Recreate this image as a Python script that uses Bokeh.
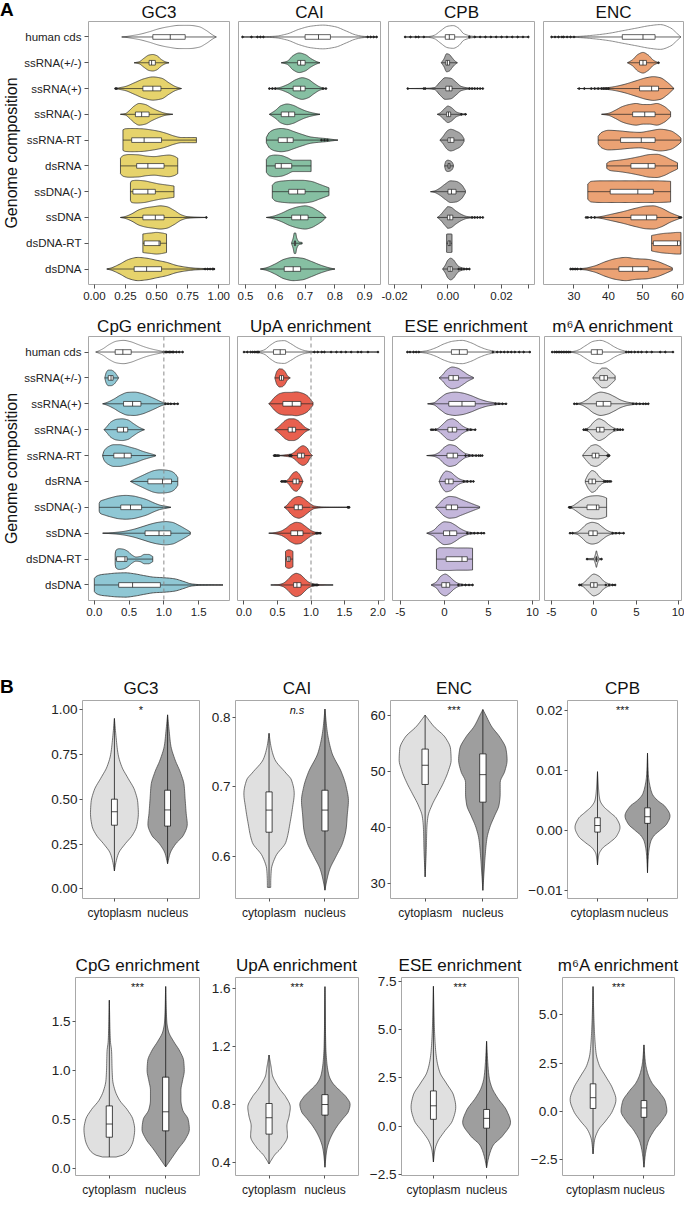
import numpy as np
from bokeh.plotting import figure
from bokeh.layouts import column, row
from bokeh.models import FixedTicker, Label, Span, Div
from bokeh.embed import file_html
from bokeh.resources import INLINE

FONT = "Liberation Sans"

GENOME_TYPES = ["human cds", "ssRNA(+/-)", "ssRNA(+)", "ssRNA(-)", "ssRNA-RT",
                "dsRNA", "ssDNA(-)", "ssDNA", "dsDNA-RT", "dsDNA"]
LOCATIONS = ["cytoplasm", "nucleus"]
PANEL_LETTERS = ["A", "B"]

# ---------------- Panel A : violin knots (value, half-width), box (q1, median, q3), outliers
GC3_V = [[0.22,0.26,0.30,0.36,0.44,0.52,0.60,0.68,0.76,0.84,0.90,0.95,0.98],
         [0.32,0.36,0.40,0.44,0.47,0.50,0.54,0.57,0.60],
         [0.17,0.20,0.25,0.32,0.40,0.47,0.54,0.60,0.65,0.70],
         [0.21,0.25,0.28,0.32,0.36,0.41,0.46,0.52,0.57,0.63],
         [0.23,0.25,0.30,0.38,0.45,0.52,0.58,0.64,0.70,0.76,0.82],
         [0.21,0.23,0.28,0.35,0.42,0.48,0.55,0.60,0.64,0.67],
         [0.29,0.30,0.34,0.40,0.46,0.52,0.58,0.64],
         [0.21,0.25,0.30,0.36,0.42,0.48,0.53,0.58,0.64,0.70,0.75,0.90],
         [0.39,0.42,0.46,0.50,0.54,0.58],
         [0.10,0.14,0.20,0.28,0.35,0.42,0.50,0.58,0.66,0.74,0.82,0.88,0.97]]
GC3_W = [[0.0,0.02,0.05,0.10,0.20,0.32,0.40,0.45,0.45,0.40,0.25,0.08,0.0],
         [0.0,0.04,0.18,0.30,0.32,0.28,0.12,0.04,0.0],
         [0.0,0.03,0.08,0.22,0.38,0.45,0.40,0.22,0.08,0.0],
         [0.0,0.03,0.14,0.32,0.42,0.38,0.25,0.12,0.04,0.0],
         [0.40,0.44,0.45,0.44,0.40,0.34,0.26,0.16,0.10,0.10,0.10],
         [0.30,0.40,0.44,0.43,0.38,0.36,0.40,0.42,0.38,0.30],
         [0.34,0.42,0.44,0.42,0.36,0.30,0.26,0.22],
         [0.0,0.04,0.14,0.30,0.38,0.42,0.45,0.42,0.28,0.10,0.03,0.0],
         [0.36,0.38,0.40,0.42,0.40,0.36],
         [0.0,0.05,0.18,0.38,0.45,0.42,0.34,0.26,0.14,0.07,0.03,0.02,0.0]]
GC3_BOX = [(0.47,0.61,0.73),(0.44,0.46,0.49),(0.39,0.47,0.535),(0.33,0.38,0.44),(0.30,0.40,0.54),
           (0.34,0.43,0.56),(0.31,0.43,0.49),(0.39,0.49,0.56),(0.40,0.52,0.53),(0.32,0.42,0.54)]
GC3_OUT = [[],[],[0.17,0.18],[],[],[],[],[0.90],[],[0.89,0.91,0.93,0.95,0.96]]

CAI_V = [[0.49,0.56,0.60,0.64,0.68,0.72,0.76,0.80,0.84,0.87,0.90,0.94],
         [0.62,0.64,0.66,0.68,0.70,0.72,0.74,0.75],
         [0.58,0.61,0.64,0.67,0.69,0.71,0.73,0.75,0.77],
         [0.58,0.60,0.62,0.64,0.66,0.68,0.70,0.72,0.75],
         [0.57,0.58,0.60,0.62,0.64,0.66,0.69,0.72,0.75,0.77,0.79,0.81],
         [0.57,0.58,0.60,0.62,0.64,0.66,0.68,0.70,0.72],
         [0.59,0.60,0.63,0.66,0.69,0.72,0.75,0.78],
         [0.57,0.59,0.62,0.65,0.68,0.70,0.72,0.74,0.76,0.77],
         [0.655,0.66,0.664,0.668,0.672,0.68,0.69],
         [0.55,0.57,0.60,0.63,0.66,0.69,0.72,0.75,0.78,0.80]]
CAI_W = [[0.0,0.01,0.03,0.12,0.30,0.42,0.46,0.40,0.22,0.08,0.02,0.0],
         [0.0,0.06,0.28,0.38,0.32,0.16,0.04,0.0],
         [0.0,0.03,0.15,0.35,0.42,0.36,0.20,0.06,0.0],
         [0.0,0.15,0.34,0.40,0.35,0.24,0.14,0.07,0.0],
         [0.10,0.30,0.42,0.45,0.42,0.34,0.22,0.12,0.08,0.06,0.03,0.0],
         [0.25,0.38,0.42,0.40,0.32,0.22,0.22,0.22,0.22],
         [0.25,0.36,0.42,0.44,0.44,0.40,0.28,0.15],
         [0.0,0.04,0.16,0.32,0.42,0.45,0.40,0.28,0.12,0.0],
         [0.03,0.20,0.40,0.40,0.20,0.05,0.03],
         [0.0,0.05,0.20,0.38,0.45,0.42,0.30,0.16,0.05,0.0]]
CAI_BOX = [(0.70,0.745,0.785),(0.675,0.685,0.70),(0.66,0.685,0.70),(0.62,0.645,0.665),(0.61,0.64,0.66),
           (0.60,0.62,0.655),(0.645,0.675,0.70),(0.655,0.685,0.71),(0.664,0.666,0.668),(0.63,0.66,0.685)]
CAI_OUT = [[0.49,0.52,0.54,0.55,0.56,0.91,0.92,0.93,0.94],[],[0.58,0.59,0.60,0.76,0.77],[],
           [0.755,0.765,0.775],[],[],[],[],[]]

CPB_V = [[-0.016,-0.010,-0.007,-0.005,-0.003,0.000,0.002,0.004,0.006,0.010,0.020,0.030],
         [-0.0025,-0.0015,-0.0005,0.0005,0.0015,0.0025,0.0035],
         [-0.015,-0.008,-0.005,-0.003,-0.001,0.001,0.003,0.005,0.008,0.013],
         [-0.004,-0.003,-0.001,0.000,0.001,0.002,0.003,0.005,0.007],
         [-0.003,-0.002,0.0,0.001,0.002,0.003,0.004,0.005,0.006],
         [-0.0012,-0.0008,0.0,0.0008,0.0015,0.002],
         [-0.0065,-0.005,-0.003,-0.001,0.001,0.003,0.005,0.0065],
         [-0.004,-0.003,-0.001,0.0,0.001,0.003,0.005,0.007,0.010,0.013],
         [-0.0005,0.0,0.0005,0.001,0.0015],
         [-0.002,-0.001,0.0,0.001,0.002,0.003,0.004,0.006,0.008]]
CPB_W = [[0.0,0.005,0.02,0.07,0.22,0.42,0.44,0.34,0.12,0.02,0.005,0.0],
         [0.0,0.15,0.35,0.32,0.20,0.08,0.0],
         [0.0,0.01,0.04,0.25,0.42,0.40,0.25,0.08,0.02,0.0],
         [0.0,0.05,0.25,0.32,0.28,0.20,0.10,0.03,0.0],
         [0.0,0.12,0.38,0.42,0.40,0.35,0.30,0.22,0.05],
         [0.05,0.18,0.22,0.20,0.15,0.05],
         [0.0,0.03,0.14,0.30,0.42,0.40,0.28,0.05],
         [0.0,0.08,0.32,0.42,0.40,0.25,0.12,0.04,0.01,0.0],
         [0.35,0.36,0.36,0.36,0.35],
         [0.0,0.15,0.35,0.42,0.36,0.22,0.10,0.03,0.0]]
CPB_BOX = [(-0.001,0.0005,0.0025),(-0.0008,-0.0002,0.0006),(-0.0008,0.0005,0.0015),(-0.0005,0.0002,0.001),
           (0.0,0.0008,0.0022),(0.0,0.0004,0.0008),(0.0,0.0013,0.003),(-0.0002,0.0007,0.0018),
           (0.0,0.0005,0.001),(0.0,0.0008,0.0016)]
CPB_OUT = [[-0.016,-0.014,-0.012,-0.011,-0.009,0.008,0.010,0.012,0.014,0.016,0.018,0.020,0.022,0.024,0.026,0.028,0.030],
           [],[-0.015,-0.009,-0.0085,0.008,0.009,0.010,0.011,0.012,0.013],[0.005,0.0065],[],[],[],
           [0.009,0.010,0.011,0.012,0.013],[],[0.004,0.005,0.006,0.007,0.008]]

ENC_V = [[23.5,28,31,35,40,44,48,52,55,58,60,61],
         [45.5,47,48.5,50,51.5,53,54.5],
         [31,36,40,44,48,51,53,55,57,59],
         [38,40,42,44,46,48,50,52,54,56,58],
         [37,38,40,43,46,49,52,55,58,60,61],
         [39.5,40.5,43,46,49,52,54,56,58,60],
         [34,35,38,42,46,50,54,58],
         [33.5,36,38,40,44,48,51,53,55,58,61],
         [52.5,54,56,58,60,61],
         [29,31,33,36,39,42,45,48,51,54,56,58.5]]
ENC_W = [[0.0,0.01,0.02,0.06,0.14,0.24,0.34,0.44,0.48,0.35,0.12,0.0],
         [0.0,0.12,0.32,0.40,0.30,0.10,0.0],
         [0.0,0.01,0.04,0.14,0.30,0.42,0.46,0.42,0.25,0.0],
         [0.0,0.04,0.16,0.30,0.38,0.42,0.38,0.38,0.42,0.32,0.10],
         [0.15,0.30,0.38,0.36,0.32,0.30,0.36,0.42,0.36,0.20,0.08],
         [0.10,0.18,0.22,0.28,0.36,0.44,0.45,0.38,0.25,0.12],
         [0.30,0.40,0.42,0.42,0.42,0.42,0.42,0.40],
         [0.0,0.01,0.04,0.10,0.22,0.36,0.44,0.45,0.38,0.18,0.02],
         [0.30,0.34,0.38,0.40,0.42,0.42],
         [0.0,0.01,0.03,0.12,0.28,0.40,0.45,0.40,0.38,0.30,0.20,0.05]]
ENC_BOX = [(44,50,53.5),(49,50,51),(49,52.5,54.5),(47,50.5,53.5),(43.5,49.5,53.5),
           (46.5,51.5,53.5),(40.5,48.5,53),(46.5,51,54),(53,60,60.8),(43,47,51.5)]
ENC_OUT = [[23.5,24.5,25.5,26.5,27,28,29,30],[54.5],[31.5,33,35,36,37,38,38.5,39,39.5,40],[],[],[],[],
           [33.5,34,35,36,60.5,61],[],[29,29.5,30,30.5,31,32]]

CPG_V = [[0.02,0.05,0.12,0.22,0.32,0.42,0.52,0.62,0.72,0.82,0.92,1.0,1.1,1.27],
         [0.15,0.17,0.20,0.24,0.28,0.32,0.35],
         [0.12,0.18,0.28,0.38,0.48,0.58,0.68,0.78,0.88,0.98,1.05,1.2],
         [0.14,0.18,0.24,0.32,0.40,0.48,0.56,0.64,0.72],
         [0.12,0.14,0.20,0.28,0.36,0.44,0.52,0.60,0.70,0.80,0.88],
         [0.52,0.56,0.62,0.70,0.78,0.86,0.94,1.02,1.10,1.16,1.20],
         [0.07,0.08,0.15,0.25,0.35,0.45,0.55,0.65,0.75,0.85,0.95,1.05,1.1],
         [0.12,0.25,0.40,0.55,0.70,0.82,0.92,1.02,1.12,1.22,1.30,1.38],
         [0.30,0.31,0.36,0.42,0.48,0.54,0.60,0.66,0.72,0.78,0.84],
         [0.0,0.02,0.10,0.20,0.32,0.45,0.58,0.72,0.86,1.0,1.15,1.28,1.40,1.55,1.85]]
CPG_W = [[0.0,0.03,0.12,0.30,0.42,0.45,0.40,0.30,0.20,0.12,0.06,0.02,0.01,0.0],
         [0.0,0.20,0.30,0.30,0.25,0.12,0.0],
         [0.0,0.05,0.18,0.34,0.44,0.45,0.40,0.30,0.18,0.06,0.02,0.0],
         [0.0,0.12,0.30,0.40,0.42,0.38,0.24,0.10,0.0],
         [0.02,0.18,0.34,0.42,0.42,0.38,0.32,0.26,0.16,0.08,0.02],
         [0.0,0.06,0.14,0.24,0.34,0.42,0.45,0.44,0.40,0.30,0.15],
         [0.15,0.22,0.30,0.38,0.44,0.46,0.44,0.38,0.30,0.18,0.08,0.03,0.0],
         [0.0,0.02,0.06,0.14,0.26,0.36,0.42,0.45,0.42,0.30,0.18,0.05],
         [0.20,0.34,0.40,0.38,0.30,0.16,0.08,0.10,0.18,0.18,0.10],
         [0.25,0.32,0.40,0.43,0.46,0.47,0.43,0.36,0.30,0.28,0.24,0.14,0.04,0.01,0.0]]
CPG_BOX = [(0.30,0.41,0.53),(0.20,0.24,0.27),(0.42,0.55,0.67),(0.33,0.42,0.48),(0.28,0.43,0.53),
           (0.77,0.98,1.11),(0.38,0.52,0.68),(0.73,0.93,1.10),(0.32,0.44,0.47),(0.35,0.55,0.95)]
CPG_OUT = [[1.0,1.02,1.04,1.06,1.08,1.1,1.12,1.14,1.18,1.22,1.27],[],[1.02,1.06,1.1,1.15,1.2],[],[],[],[],[],[],[]]

UPA_V = [[0.0,0.08,0.2,0.3,0.4,0.5,0.6,0.7,0.8,0.9,1.0,1.2,1.5,2.0],
         [0.46,0.49,0.53,0.57,0.61,0.65,0.69],
         [0.37,0.40,0.46,0.54,0.62,0.70,0.78,0.86,0.94,1.00,1.03],
         [0.46,0.50,0.56,0.62,0.68,0.74,0.80,0.86,0.92,0.98],
         [0.45,0.55,0.62,0.70,0.76,0.82,0.88,0.94,0.98,1.02],
         [0.55,0.62,0.66,0.70,0.74,0.78,0.82,0.86,0.88],
         [0.60,0.64,0.70,0.76,0.82,0.88,0.94,1.00,1.05,1.2,1.4,1.57],
         [0.37,0.45,0.55,0.62,0.70,0.78,0.84,0.90,0.96,1.02,1.08,1.15],
         [0.62,0.64,0.67,0.70,0.73],
         [0.40,0.50,0.58,0.66,0.72,0.78,0.84,0.90,0.96,1.02,1.1,1.2,1.33]]
UPA_W = [[0.0,0.01,0.02,0.08,0.28,0.42,0.44,0.32,0.16,0.06,0.02,0.005,0.002,0.0],
         [0.0,0.25,0.35,0.34,0.25,0.08,0.0],
         [0.0,0.08,0.26,0.40,0.44,0.44,0.46,0.42,0.32,0.15,0.05],
         [0.0,0.08,0.22,0.36,0.42,0.42,0.36,0.22,0.08,0.0],
         [0.0,0.01,0.03,0.06,0.15,0.30,0.38,0.30,0.12,0.0],
         [0.0,0.02,0.08,0.22,0.34,0.38,0.30,0.12,0.0],
         [0.0,0.08,0.26,0.38,0.42,0.36,0.24,0.12,0.05,0.01,0.005,0.0],
         [0.0,0.02,0.08,0.18,0.34,0.42,0.40,0.30,0.18,0.08,0.03,0.0],
         [0.30,0.34,0.36,0.34,0.30],
         [0.0,0.01,0.06,0.22,0.38,0.45,0.40,0.26,0.12,0.05,0.02,0.005,0.0]]
UPA_BOX = [(0.44,0.54,0.62),(0.53,0.56,0.59),(0.58,0.72,0.85),(0.66,0.72,0.77),(0.80,0.86,0.90),
           (0.73,0.78,0.82),(0.75,0.81,0.87),(0.70,0.80,0.88),(0.64,0.67,0.69),(0.74,0.79,0.85)]
UPA_OUT = [[0.0,0.05,0.1,0.13,0.16,0.18,0.2,0.22,1.05,1.1,1.16,1.2,1.3,1.38,1.45,1.52,1.6,1.7,1.75,1.85,2.0],
           [],[],[],[0.45,0.46,0.47,0.48,0.5,0.52,0.68,0.69,0.70,0.71],[0.56,0.58,0.60,0.62],
           [1.55,1.56,1.57],[1.08,1.1,1.12,1.14],[],[1.02,1.04,1.06,1.08,1.1]]

ESE_V = [[-4.2,-3.0,-2.0,-1.0,0.0,1.0,2.0,3.0,4.0,5.0,6.0,7.5,9.7],
         [-0.6,-0.2,0.3,0.9,1.5,2.1,2.7,3.3],
         [-1.9,-1.2,-0.5,0.3,1.2,2.0,3.0,4.0,5.0,6.0,7.0],
         [-1.5,-0.8,-0.2,0.4,0.9,1.4,2.0,2.6,3.5],
         [-2.0,-1.2,-0.6,0.0,0.6,1.2,1.8,2.4,3.0,4.3],
         [-0.6,-0.3,0.2,0.7,1.2,1.7,2.2,3.3],
         [-1.0,-0.6,0.0,0.6,1.2,1.8,2.4,3.0,3.6,4.0],
         [-2.0,-1.2,-0.6,0.0,0.6,1.2,1.8,2.4,3.0,4.5],
         [-0.9,-0.5,0.5,1.5,2.5,3.2],
         [-1.5,-0.9,-0.4,0.1,0.6,1.1,1.6,2.2,3.2]]
ESE_W = [[0.0,0.01,0.05,0.16,0.32,0.42,0.45,0.36,0.20,0.08,0.02,0.005,0.0],
         [0.0,0.12,0.32,0.42,0.38,0.26,0.12,0.02],
         [0.0,0.04,0.22,0.40,0.45,0.42,0.32,0.18,0.08,0.03,0.0],
         [0.0,0.04,0.20,0.38,0.42,0.34,0.16,0.05,0.0],
         [0.0,0.03,0.12,0.32,0.42,0.38,0.22,0.08,0.03,0.0],
         [0.0,0.22,0.40,0.36,0.22,0.10,0.04,0.0],
         [0.0,0.14,0.34,0.42,0.40,0.32,0.24,0.16,0.08,0.03],
         [0.0,0.12,0.32,0.44,0.42,0.32,0.18,0.08,0.03,0.0],
         [0.38,0.44,0.44,0.43,0.43,0.42],
         [0.0,0.12,0.34,0.42,0.32,0.16,0.06,0.02,0.0]]
ESE_BOX = [(0.8,1.7,2.6),(0.5,1.0,1.6),(0.5,2.0,3.5),(0.4,0.9,1.4),(0.3,1.0,1.5),
           (0.1,0.5,1.0),(0.2,0.8,1.5),(-0.1,0.6,1.4),(0.2,2.0,2.6),(-0.3,0.2,0.6)]
ESE_OUT = [[-4.2,-3.9,-3.5,-3.2,-2.9,5.5,6.0,6.4,6.8,7.2,7.6,8.0,8.5,9.0,9.7],[],[5.8,6.2,6.6,7.0],
           [-1.5,-1.3,-1.0,2.6,3.0,3.5],[2.4,2.8,3.2,3.6,3.9,4.1,4.3],[2.2,2.6,3.0,3.3],[],
           [2.6,3.0,3.4,3.8,4.2,4.5],[],[1.6,2.0,2.4,2.8,3.2]]

M6A_V = [[-4.9,-3.5,-2.5,-1.8,-1.0,0.0,0.8,1.6,2.4,3.2,4.0,6.0,9.3],
         [-0.1,0.2,0.6,1.0,1.4,1.8,2.2,2.5],
         [-2.3,-1.6,-0.8,0.0,0.8,1.6,2.4,3.2,4.0,5.0,6.4],
         [-1.2,-0.6,0.0,0.6,1.2,1.8,2.4,3.0,3.4],
         [-1.3,-0.8,-0.3,0.2,0.7,1.2,1.6,1.8],
         [-1.0,-0.6,-0.2,0.2,0.6,1.0,1.4,2.0],
         [-2.9,-2.6,-2.0,-1.4,-0.8,-0.2,0.4,1.0,1.5],
         [-2.8,-2.0,-1.4,-0.8,-0.2,0.4,1.0,1.6,2.2,3.5],
         [-0.8,0.0,0.2,0.3,0.4,0.6,0.9],
         [-1.7,-1.2,-0.6,0.0,0.6,1.2,1.8,2.5]]
M6A_W = [[0.0,0.005,0.02,0.08,0.24,0.42,0.45,0.36,0.20,0.08,0.02,0.005,0.0],
         [0.02,0.14,0.28,0.38,0.38,0.30,0.18,0.08],
         [0.0,0.03,0.16,0.36,0.45,0.40,0.28,0.14,0.06,0.02,0.0],
         [0.0,0.08,0.30,0.42,0.34,0.18,0.06,0.02,0.0],
         [0.02,0.22,0.38,0.42,0.35,0.20,0.10,0.04],
         [0.05,0.30,0.42,0.36,0.20,0.08,0.03,0.0],
         [0.02,0.04,0.16,0.30,0.40,0.44,0.45,0.42,0.36],
         [0.0,0.04,0.18,0.36,0.42,0.38,0.24,0.10,0.03,0.0],
         [0.02,0.03,0.20,0.32,0.20,0.03,0.02],
         [0.0,0.08,0.28,0.42,0.34,0.14,0.04,0.0]]
M6A_BOX = [(-0.3,0.4,1.0),(0.7,1.2,1.6),(0.3,1.1,2.0),(0.3,0.7,1.2),(-0.2,0.2,0.6),
           (-0.6,-0.2,0.2),(-0.8,0.3,0.6),(-0.6,-0.1,0.4),(0.25,0.3,0.35),(-0.4,0.0,0.4)]
M6A_OUT = [[-4.9,-4.6,-4.4,-4.2,-4.0,-3.8,-3.6,-3.4,-3.2,-3.0,-2.8,3.8,4.1,4.4,4.8,5.2,5.6,6.2,6.8,7.8,8.4,9.3],
           [],[-2.3,-2.0,4.6,5.0,5.4,5.8,6.1,6.4],[-1.2,-1.0,-0.8,2.4,2.8,3.1,3.4],[1.6,1.7,1.8],
           [1.2,1.4,1.6,1.8,2.0],[-2.9,-2.8,-2.7],[-2.8,-2.5,2.2,2.6,3.0,3.5],[-0.8,0.9],[-1.7,-1.5,1.4,1.8,2.2,2.5]]

GC3_TICKS, GC3_LABELS = [0, 0.25, 0.5, 0.75, 1.0], ["0.00", "0.25", "0.50", "0.75", "1.00"]
CAI_TICKS, CAI_LABELS = [0.5, 0.6, 0.7, 0.8, 0.9], ["0.5", "0.6", "0.7", "0.8", "0.9"]
CPB_TICKS, CPB_LABELS = [-0.02, -0.01, 0, 0.01, 0.02, 0.03], ["-0.02", "", "0.00", "", "0.02", ""]
ENC_TICKS, ENC_LABELS = [30, 40, 50, 60], ["30", "40", "50", "60"]
CPG_TICKS, CPG_LABELS = [0, 0.5, 1.0, 1.5], ["0.0", "0.5", "1.0", "1.5"]
UPA_TICKS, UPA_LABELS = [0, 0.5, 1.0, 1.5, 2.0], ["0.0", "0.5", "1.0", "1.5", "2.0"]
ESE_TICKS, ESE_LABELS = [-5, 0, 5, 10], ["-5", "0", "5", "10"]
M6A_TICKS, M6A_LABELS = [-5, 0, 5, 10], ["-5", "0", "5", "10"]

# ---------------- Panel B : cytoplasm vs nucleus
GC3B_V = [[0.10,0.15,0.20,0.25,0.30,0.35,0.42,0.48,0.55,0.62,0.68,0.75,0.85,0.95],
          [0.14,0.20,0.25,0.30,0.36,0.42,0.50,0.58,0.65,0.72,0.80,0.88,0.97]]
GC3B_W = [[0.0,0.03,0.08,0.20,0.34,0.42,0.45,0.44,0.38,0.25,0.14,0.07,0.03,0.0],
          [0.0,0.05,0.15,0.30,0.37,0.35,0.33,0.31,0.24,0.14,0.06,0.03,0.0]]
GC3B_BOX = [(0.355,0.43,0.50),(0.35,0.44,0.55)]

CAIB_V = [[0.555,0.56,0.58,0.60,0.62,0.65,0.67,0.69,0.71,0.72,0.74,0.76,0.777],
          [0.551,0.56,0.58,0.60,0.62,0.64,0.66,0.68,0.70,0.72,0.75,0.78,0.812]]
CAIB_W = [[0.03,0.03,0.04,0.12,0.30,0.38,0.42,0.45,0.40,0.30,0.10,0.03,0.0],
          [0.0,0.02,0.08,0.20,0.32,0.38,0.40,0.42,0.38,0.30,0.12,0.04,0.0]]
CAIB_BOX = [(0.6345,0.6664,0.6926),(0.6364,0.6664,0.695)]

ENCB_V = [[31.2,36,40,42,44,46,48,50,52,54,56,58,60],
          [28.8,32,35,38,40,42,44,46,48,50,52,54,56,58,60,61]]
ENCB_W = [[0.0,0.02,0.03,0.05,0.12,0.22,0.32,0.40,0.45,0.44,0.35,0.15,0.0],
          [0.0,0.02,0.04,0.07,0.12,0.20,0.28,0.30,0.30,0.38,0.42,0.40,0.30,0.15,0.05,0.0]]
ENCB_BOX = [(47.65,51.07,53.95),(44.5,49.4,53.1)]

CPBB_V = [[-0.0058,-0.004,-0.003,-0.002,-0.001,0.0005,0.002,0.003,0.004,0.005,0.007,0.0098],
          [-0.0071,-0.004,-0.002,-0.001,0.0,0.001,0.0024,0.004,0.005,0.006,0.007,0.009,0.0129]]
CPBB_W = [[0.0,0.03,0.10,0.25,0.38,0.45,0.38,0.25,0.12,0.05,0.02,0.0],
          [0.0,0.02,0.06,0.12,0.25,0.38,0.45,0.35,0.20,0.10,0.06,0.02,0.0]]
CPBB_BOX = [(-0.0003,0.0008,0.0021),(0.00116,0.00227,0.00376)]

CPGB_V = [[0.118,0.14,0.2,0.3,0.4,0.5,0.6,0.7,0.8,0.9,1.0,1.2,1.3,1.72],
          [0.017,0.1,0.2,0.3,0.4,0.5,0.6,0.7,0.8,0.9,1.0,1.1,1.2,1.3,1.4,1.5,1.86]]
CPGB_W = [[0.12,0.25,0.36,0.43,0.45,0.42,0.32,0.18,0.10,0.06,0.05,0.04,0.02,0.0],
          [0.0,0.10,0.22,0.35,0.42,0.40,0.30,0.27,0.27,0.30,0.33,0.32,0.25,0.14,0.05,0.02,0.0]]
CPGB_BOX = [(0.32,0.455,0.64),(0.385,0.58,0.934)]

UPAB_V = [[0.389,0.45,0.5,0.58,0.65,0.72,0.78,0.85,0.9,0.95,1.0,1.05,1.139],
          [0.366,0.45,0.5,0.55,0.6,0.65,0.7,0.75,0.8,0.85,0.9,0.95,1.0,1.1,1.2,1.61]]
UPAB_W = [[0.0,0.10,0.22,0.33,0.32,0.36,0.38,0.30,0.20,0.12,0.06,0.04,0.0],
          [0.0,0.02,0.04,0.08,0.14,0.22,0.32,0.42,0.45,0.38,0.25,0.13,0.07,0.03,0.015,0.0]]
UPAB_BOX = [(0.594,0.707,0.805),(0.725,0.798,0.866)]

ESEB_V = [[-1.85,-1.2,-0.8,-0.3,0.3,1.0,1.6,2.2,2.8,3.5,4.0,5.0,7.25],
          [-2.15,-1.6,-1.0,-0.5,0.2,0.8,1.5,2.0,2.5,3.0,4.4]]
ESEB_W = [[0.0,0.03,0.08,0.20,0.36,0.42,0.38,0.25,0.12,0.06,0.04,0.02,0.0],
          [0.0,0.04,0.12,0.30,0.45,0.38,0.20,0.10,0.05,0.03,0.0]]
ESEB_BOX = [(0.36,1.06,1.83),(-0.1,0.41,0.87)]

M6AB_V = [[-2.22,-1.5,-1.0,-0.5,0.0,0.6,1.2,1.8,2.4,3.0,4.0,5.0,6.47],
          [-2.91,-2.2,-1.6,-1.0,-0.5,0.0,0.5,1.0,1.5,2.0,2.5,3.44]]
M6AB_W = [[0.0,0.03,0.10,0.25,0.38,0.45,0.38,0.25,0.12,0.06,0.03,0.015,0.0],
          [0.0,0.03,0.08,0.20,0.35,0.45,0.42,0.30,0.15,0.07,0.03,0.0]]
M6AB_BOX = [(0.14,0.70,1.42),(-0.32,0.17,0.55)]

B_SIGNIF = ["*", "n.s", "***", "***", "***", "***", "***", "***"]

GC3B_TICKS, GC3B_LABELS = [0, 0.25, 0.5, 0.75, 1.0], ["0.00", "0.25", "0.50", "0.75", "1.00"]
CAIB_TICKS, CAIB_LABELS = [0.6, 0.7, 0.8], ["0.6", "0.7", "0.8"]
ENCB_TICKS, ENCB_LABELS = [30, 40, 50, 60], ["30", "40", "50", "60"]
CPBB_TICKS, CPBB_LABELS = [-0.01, 0, 0.01, 0.02], ["\u22120.01", "0.00", "0.01", "0.02"]
CPGB_TICKS, CPGB_LABELS = [0, 0.5, 1.0, 1.5], ["0.0", "0.5", "1.0", "1.5"]
UPAB_TICKS, UPAB_LABELS = [0.4, 0.8, 1.2, 1.6], ["0.4", "0.8", "1.2", "1.6"]
ESEB_TICKS, ESEB_LABELS = [-2.5, 0, 2.5, 5.0, 7.5], ["\u22122.5", "0.0", "2.5", "5.0", "7.5"]
M6AB_TICKS, M6AB_LABELS = [-2.5, 0, 2.5, 5.0], ["\u22122.5", "0.0", "2.5", "5.0"]

A_COLORS = ["#E6D36C", "#86BFA2", "#A3A3A3", "#EBA274", "#8FC7D4", "#E8604F", "#C4B7DB", "#DCDCDC"]
B_COLORS = ["#E0E0E0", "#9E9E9E"]


def pchip(x, y, xs):
    x = np.asarray(x, float); y = np.asarray(y, float)
    h = np.diff(x); d = np.diff(y) / h
    n = len(x)
    m = np.zeros(n)
    m[0], m[-1] = d[0], d[-1]
    for k in range(1, n - 1):
        if d[k - 1] * d[k] > 0:
            w1 = 2 * h[k] + h[k - 1]; w2 = h[k] + 2 * h[k - 1]
            m[k] = (w1 + w2) / (w1 / d[k - 1] + w2 / d[k])
    idx = np.clip(np.searchsorted(x, xs, side="right") - 1, 0, n - 2)
    t = (xs - x[idx]) / h[idx]
    h00 = 2 * t**3 - 3 * t**2 + 1; h10 = t**3 - 2 * t**2 + t
    h01 = -2 * t**3 + 3 * t**2; h11 = t**3 - t**2
    return h00 * y[idx] + h10 * h[idx] * m[idx] + h01 * y[idx + 1] + h11 * h[idx] * m[idx + 1]


def outline(v, w):
    t = np.linspace(v[0], v[-1], 90)
    hw = np.clip(pchip(v, w, t), 0, None)
    return t, hw


def base_fig(width, height, L, R, T, B, xr, yr, title, standoff):
    p = figure(width=width, height=height, x_range=xr, y_range=yr, title=title,
               output_backend="svg", toolbar_location=None,
               min_border_left=L, min_border_right=R, min_border_top=T, min_border_bottom=B)
    p.title.align = "center"
    p.title.text_font = FONT
    p.title.text_font_size = "17px"
    p.title.text_font_style = "normal"
    p.title.text_color = "#111111"
    p.title.standoff = standoff
    p.outline_line_color = "#a8a8a8"
    p.outline_line_width = 1
    p.xgrid.visible = False
    p.ygrid.visible = False
    p.background_fill_color = "white"
    p.border_fill_color = "white"
    for ax in p.axis:
        ax.axis_line_color = None
        ax.minor_tick_line_color = None
        ax.major_tick_in = 0
        ax.major_tick_out = 4
        ax.major_tick_line_color = "#555555"
        ax.major_label_text_font = FONT
        ax.major_label_text_color = "#222222"
    return p


A_FRAME_H = 264


def a_panel(width, L, R, T, B, xr, title, standoff, ticks, labels, V, W, BOX, OUT, color,
            first=False, ref_line=False):
    p = base_fig(width, T + A_FRAME_H + B, L, R, T, B, xr, (-0.6, 9.6), title, standoff)
    p.xaxis.ticker = FixedTicker(ticks=ticks)
    p.xaxis.major_label_overrides = dict(zip(ticks, labels))
    p.xaxis.major_label_text_font_size = "11.5px"
    p.xaxis.major_label_standoff = 3
    if first:
        n = len(GENOME_TYPES)
        pos = [n - 1 - i for i in range(n)]
        p.yaxis.ticker = FixedTicker(ticks=pos)
        p.yaxis.major_label_overrides = dict(zip(pos, GENOME_TYPES))
        p.yaxis.major_label_text_font_size = "11.5px"
        p.yaxis.major_label_standoff = 3
        p.yaxis.axis_label = "Genome composition"
        p.yaxis.axis_label_text_font = FONT
        p.yaxis.axis_label_text_font_size = "16px"
        p.yaxis.axis_label_text_font_style = "normal"
        p.yaxis.axis_label_text_color = "#111111"
        p.yaxis.axis_label_standoff = 1
    else:
        p.yaxis.visible = False
    n = len(V)
    xs, ys, fills, lines = [], [], [], []
    wx0, wx1, wy = [], [], []
    ox, oy = [], []
    for i in range(n):
        c = n - 1 - i
        t, hw = outline(V[i], W[i])
        xs.append(np.concatenate([t, t[::-1]]).tolist())
        ys.append(np.concatenate([c + hw, (c - hw)[::-1]]).tolist())
        fills.append("white" if i == 0 else color)
        lines.append("#707070" if i == 0 else "#333333")
        wx0.append(V[i][0]); wx1.append(V[i][-1]); wy.append(c)
        ox.extend(OUT[i]); oy.extend([c] * len(OUT[i]))
    p.patches(xs, ys, fill_color=fills, line_color=lines, line_width=0.8)
    p.segment(x0=wx0, y0=wy, x1=wx1, y1=wy, line_color="#222222", line_width=0.7)
    if ox:
        p.scatter(x=ox, y=oy, size=1.7, color="#222222")
    q1 = [b[0] for b in BOX]; md = [b[1] for b in BOX]; q3 = [b[2] for b in BOX]
    bh = 0.09
    p.quad(left=q1, right=q3, bottom=[y - bh for y in wy], top=[y + bh for y in wy],
           fill_color="white", line_color="#222222", line_width=0.7)
    p.segment(x0=md, y0=[y - bh for y in wy], x1=md, y1=[y + bh for y in wy],
              line_color="#222222", line_width=0.8)
    if ref_line:
        p.add_layout(Span(location=1.0, dimension="height", line_color="#8a8a8a",
                          line_dash="4 3", line_width=1))
    return p


B_FRAME_H = 198


def b_panel(width, L, R, T, B, yr, title, standoff, ticks, labels, V, W, BOX, sig):
    p = base_fig(width, T + B_FRAME_H + B, L, R, T, B, (0.4, 2.6), yr, title, standoff)
    p.xaxis.ticker = FixedTicker(ticks=[1, 2])
    p.xaxis.major_label_overrides = {1: LOCATIONS[0], 2: LOCATIONS[1]}
    p.xaxis.major_label_text_font_size = "12px"
    p.xaxis.major_label_standoff = 4
    p.xaxis.major_tick_out = 3
    p.yaxis.ticker = FixedTicker(ticks=ticks)
    p.yaxis.major_label_overrides = dict(zip(ticks, labels))
    p.yaxis.major_label_text_font_size = "13.5px"
    p.yaxis.major_label_standoff = 2
    p.yaxis.major_tick_out = 3
    xs, ys = [], []
    for k in range(2):
        c = k + 1
        t, hw = outline(V[k], W[k])
        xs.append(np.concatenate([c + hw, (c - hw)[::-1]]).tolist())
        ys.append(np.concatenate([t, t[::-1]]).tolist())
    p.patches(xs, ys, fill_color=B_COLORS, line_color="#3c3c3c", line_width=0.7)
    p.segment(x0=[1, 2], y0=[V[0][0], V[1][0]], x1=[1, 2], y1=[V[0][-1], V[1][-1]],
              line_color="#1a1a1a", line_width=0.8)
    bw = 0.055
    q1 = [b[0] for b in BOX]; md = [b[1] for b in BOX]; q3 = [b[2] for b in BOX]
    p.quad(left=[1 - bw, 2 - bw], right=[1 + bw, 2 + bw], bottom=q1, top=q3,
           fill_color="white", line_color="#1a1a1a", line_width=0.8)
    p.segment(x0=[1 - bw, 2 - bw], y0=md, x1=[1 + bw, 2 + bw], y1=md,
              line_color="#1a1a1a", line_width=0.8)
    p.add_layout(Label(x=1.5, y=B_FRAME_H - 3, x_units="data", y_units="screen", text=sig,
                       text_align="center", text_baseline="top", text_font=FONT,
                       text_font_size="11px", text_color="#111111",
                       text_font_style="italic" if sig == "n.s" else "normal"))
    return p


def letter(text, top):
    return Div(text=text, width=16, height=20,
               styles={"position": "absolute", "left": "0px", "top": f"{top}px",
                       "font-family": FONT, "font-size": "19px", "font-weight": "bold",
                       "line-height": "19px", "color": "#000000", "z-index": "10",
                       "margin": "0px", "padding": "0px"})


# ---------------- Row 1 : panel A, codon usage metrics
a1 = a_panel(234, 84, 5, 20, 20, (-0.047, 1.086), "GC3", 0, GC3_TICKS, GC3_LABELS,
             GC3_V, GC3_W, GC3_BOX, GC3_OUT, A_COLORS[0], first=True)
a2 = a_panel(147, 4, 1, 20, 20, (0.4765, 0.953), "CAI", 0, CAI_TICKS, CAI_LABELS,
             CAI_V, CAI_W, CAI_BOX, CAI_OUT, A_COLORS[1])
a3 = a_panel(157, 7, 4, 20, 20, (-0.0222, 0.0323), "CPB", 0, CPB_TICKS, CPB_LABELS,
             CPB_V, CPB_W, CPB_BOX, CPB_OUT, A_COLORS[2])
a4 = a_panel(146, 5, 1, 20, 20, (21.16, 61.74), "ENC", 0, ENC_TICKS, ENC_LABELS,
             ENC_V, ENC_W, ENC_BOX, ENC_OUT, A_COLORS[3])

# ---------------- Row 2 : panel A, dinucleotide / motif enrichment
a5 = a_panel(233, 84, 4, 32, 22, (-0.084, 1.944), "CpG enrichment", 1, CPG_TICKS, CPG_LABELS,
             CPG_V, CPG_W, CPG_BOX, CPG_OUT, A_COLORS[4], first=True, ref_line=True)
a6 = a_panel(154, 4, 3, 32, 22, (-0.097, 2.097), "UpA enrichment", 1, UPA_TICKS, UPA_LABELS,
             UPA_V, UPA_W, UPA_BOX, UPA_OUT, A_COLORS[5], ref_line=True)
a7 = a_panel(154, 5, 2, 32, 22, (-5.89, 10.8), "ESE enrichment", 1, ESE_TICKS, ESE_LABELS,
             ESE_V, ESE_W, ESE_BOX, ESE_OUT, A_COLORS[6])
a8 = a_panel(143, 3, 3, 32, 22, (-5.8, 10.3), "m\u2076A enrichment", 1, M6A_TICKS, M6A_LABELS,
             M6A_V, M6A_W, M6A_BOX, M6A_OUT, A_COLORS[7])

# ---------------- Row 3 : panel B
b1 = b_panel(208, 82, 9, 78, 26, (-0.0535, 1.05), "GC3", 5, GC3B_TICKS, GC3B_LABELS,
             GC3B_V, GC3B_W, GC3B_BOX, B_SIGNIF[0])
b2 = b_panel(158, 26, 8, 78, 26, (0.539, 0.8243), "CAI", 5, CAIB_TICKS, CAIB_LABELS,
             CAIB_V, CAIB_W, CAIB_BOX, B_SIGNIF[1])
b3 = b_panel(159, 24, 8, 78, 26, (27.35, 62.6), "ENC", 5, ENCB_TICKS, ENCB_LABELS,
             ENCB_V, ENCB_W, ENCB_BOX, B_SIGNIF[2])
b4 = b_panel(159, 40, 7, 78, 26, (-0.0114, 0.0217), "CPB", 5, CPBB_TICKS, CPBB_LABELS,
             CPBB_V, CPBB_W, CPBB_BOX, B_SIGNIF[3])

# ---------------- Row 4 : panel B
b5 = b_panel(208, 75, 9, 53, 25, (-0.071, 1.952), "CpG enrichment", 5, CPGB_TICKS, CPGB_LABELS,
             CPGB_V, CPGB_W, CPGB_BOX, B_SIGNIF[4])
b6 = b_panel(158, 26, 8, 53, 25, (0.309, 1.673), "UpA enrichment", 5, UPAB_TICKS, UPAB_LABELS,
             UPAB_V, UPAB_W, UPAB_BOX, B_SIGNIF[5])
b7 = b_panel(159, 33, 7, 53, 25, (-2.55, 7.705), "ESE enrichment", 5, ESEB_TICKS, ESEB_LABELS,
             ESEB_V, ESEB_W, ESEB_BOX, B_SIGNIF[6])
b8 = b_panel(159, 37, 10, 53, 25, (-3.34, 6.94), "m\u2076A enrichment", 5, M6AB_TICKS, M6AB_LABELS,
             M6AB_V, M6AB_W, M6AB_BOX, B_SIGNIF[7])

layout = column(row(a1, a2, a3, a4), row(a5, a6, a7, a8),
                row(b1, b2, b3, b4), row(b5, b6, b7, b8),
                letter(PANEL_LETTERS[0], 0), letter(PANEL_LETTERS[1], 677),
                styles={"position": "relative"})

open("out.html", "w").write(file_html(layout, INLINE))
